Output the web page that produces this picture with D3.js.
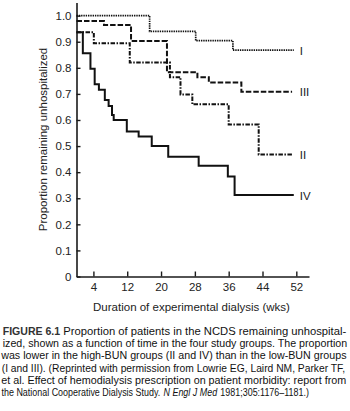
<!DOCTYPE html>
<html>
<head>
<meta charset="utf-8">
<script src="https://cdn.jsdelivr.net/npm/d3@7"></script>
<style>
  html, body { margin: 0; padding: 0; background: #fff; }
  svg { display: block; }
</style>
</head>
<body>
<script>
// ---- data ----
const xTicks = [4, 12, 20, 28, 36, 44, 52];
const yTicks = [0, 0.1, 0.2, 0.3, 0.4, 0.5, 0.6, 0.7, 0.8, 0.9, 1.0];

const groupNames = ["I", "III", "II", "IV"];

const timesI   = [0, 17.3, 28.2, 37.0];
const valuesI  = [1.0, 0.940, 0.904, 0.868];
const endI = 51.4;

const timesIII  = [0, 6.5, 12.9, 21.4, 28.6, 31.3, 39.0];
const valuesIII = [0.979, 0.964, 0.903, 0.783, 0.764, 0.744, 0.708];
const endIII = 51.0;

const timesII  = [0, 4.1, 12.6, 22.1, 24.6, 27.4, 36.0, 43.1];
const valuesII = [0.936, 0.894, 0.820, 0.764, 0.698, 0.660, 0.583, 0.468];
const endII = 51.2;

const timesIV  = [0, 1.5, 3.3, 4.3, 5.3, 6.7, 7.6, 8.4, 8.8, 11.9, 14.7, 17.8, 21.7, 28.9, 35.8, 37.4];
const valuesIV = [0.936, 0.856, 0.796, 0.737, 0.716, 0.677, 0.654, 0.619, 0.600, 0.556, 0.537, 0.500, 0.459, 0.425, 0.383, 0.312];
const endIV = 51.4;

const captionLines = [
  "ized, shown as a function of time in the four study groups. The proportion",
  "was lower in the high-BUN groups (II and IV) than in the low-BUN groups",
  "(I and III). (Reprinted with permission from Lowrie EG, Laird NM, Parker TF,",
  "et al. Effect of hemodialysis prescription on patient morbidity: report from"
];
const lastLineParts = ["the National Cooperative Dialysis Study.", "N Engl J Med", "1981;305:1176\u20131181.)"];

// ---- drawing ----
const W = 350, H = 411;
const svg = d3.select("body").append("svg").attr("width", W).attr("height", H);
svg.append("rect").attr("width", W).attr("height", H).attr("fill", "#fff");

const x = d3.scaleLinear().domain([0, 55]).range([76.5, 309]);
const y = d3.scaleLinear().domain([0, 1.05]).range([276.5, 2.6]);

const axisFont = "'Liberation Sans', Arial, Helvetica, sans-serif";

// axes
const gx = svg.append("g").attr("transform", `translate(0,${y(0)})`)
  .call(d3.axisBottom(x).tickValues(xTicks).tickSizeInner(-5).tickSizeOuter(0).tickPadding(6));
const gy = svg.append("g").attr("transform", `translate(${x(0)},0)`)
  .call(d3.axisLeft(y).tickValues(yTicks).tickSizeInner(-4).tickSizeOuter(0).tickPadding(5)
    .tickFormat(d => d === 0 ? "0" : d.toFixed(1)));

[gx, gy].forEach(g => {
  g.select(".domain").attr("stroke", "#1a1a1a").attr("stroke-width", 1.6);
  g.selectAll(".tick line").attr("stroke", "#1a1a1a").attr("stroke-width", 1.4);
  g.selectAll(".tick text").attr("fill", "#222").style("font-family", axisFont).style("font-size", "11.5px");
});

// axis titles
svg.append("text")
  .attr("x", 191.5).attr("y", 311)
  .attr("text-anchor", "middle")
  .style("font-family", axisFont).style("font-size", "11.5px").attr("fill", "#222")
  .text("Duration of experimental dialysis (wks)");

svg.append("text")
  .attr("transform", "translate(46.5,139.5) rotate(-90)")
  .attr("text-anchor", "middle")
  .style("font-family", axisFont).style("font-size", "11.5px").attr("fill", "#222")
  .text("Proportion remaining unhospitalized");

// survival curves
const series = [
  { name: groupNames[0], times: timesI, values: valuesI, end: endI, dash: "1.4,0.9", width: 1.7 },
  { name: groupNames[1], times: timesIII, values: valuesIII, end: endIII, dash: "5.5,2", width: 2 },
  { name: groupNames[2], times: timesII, values: valuesII, end: endII, dash: "4.5,1.5,1.5,1.5", width: 2 },
  { name: groupNames[3], times: timesIV, values: valuesIV, end: endIV, dash: null, width: 2 }
];

const line = d3.line().x(d => x(d[0])).y(d => y(d[1])).curve(d3.curveStepAfter);

series.forEach(s => {
  const pts = s.times.map((t, i) => [t, s.values[i]]);
  pts.push([s.end, s.values[s.values.length - 1]]);
  svg.append("path")
    .attr("d", line(pts))
    .attr("fill", "none")
    .attr("stroke", "#111")
    .attr("stroke-width", s.width)
    .attr("stroke-dasharray", s.dash)
    .attr("stroke-linejoin", "miter");
  svg.append("text")
    .attr("x", x(52.8))
    .attr("y", y(s.values[s.values.length - 1]) + 4.5)
    .style("font-family", axisFont).style("font-size", "11.5px").attr("fill", "#222")
    .text(s.name);
});

// caption: every piece drawn at natural size, then squeezed horizontally to its span
const capFont = "'Liberation Sans Narrow', 'Arial Narrow', 'Liberation Sans', Arial, sans-serif";
const capSize = "11px";
const base0 = 334.7, lh = 12.35;

function capText(txt, yy, opts = {}) {
  const t = svg.append("text")
    .attr("x", 0).attr("y", 0)
    .style("font-family", capFont).style("font-size", capSize)
    .attr("fill", opts.fill || "#111")
    .text(txt);
  if (opts.bold) t.style("font-weight", "bold");
  if (opts.italic) t.style("font-style", "italic");
  t.datum({ y: yy });
  return t;
}
function place(t, x0, sx) {
  t.attr("transform", `translate(${x0},${t.datum().y}) scale(${sx},1)`);
}
function fit(t, x0, x1) {
  const w = t.node().getComputedTextLength();
  place(t, x0, (x1 - x0) / w);
}

fit(capText("FIGURE 6.1", base0, { bold: true, fill: "#333" }), 2.7, 60.2);
fit(capText("Proportion of patients in the NCDS remaining unhospital-", base0), 63.3, 346.7);
const lineX0 = [2.7, 1.2, 1.7, 1.2];
const lineX1 = [347.7, 346.7, 345.7, 346.7];
captionLines.forEach((txt, i) => fit(capText(txt, base0 + lh * (i + 1)), lineX0[i], lineX1[i]));

// last line: keep natural proportions, squeeze as a whole to its span in the reference
const y6 = base0 + lh * 5;
const parts = lastLineParts.map((txt, i) => capText(txt, y6, { italic: i === 1 }));
const natural = parts.map(p => p.node().getComputedTextLength());
const gap = 3.2;
const lx0 = 1.5, lx1 = 309;
const f = (lx1 - lx0 - 2 * gap) / d3.sum(natural);
let cx = lx0;
parts.forEach((p, i) => {
  place(p, cx, f);
  cx += natural[i] * f + gap;
});
</script>
</body>
</html>
